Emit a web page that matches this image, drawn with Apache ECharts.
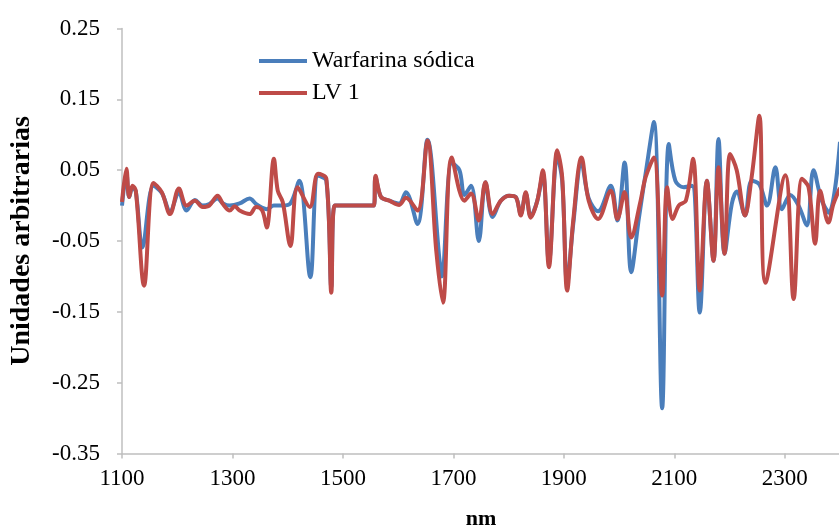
<!DOCTYPE html>
<html>
<head>
<meta charset="utf-8">
<script src="https://cdn.jsdelivr.net/npm/echarts@6/dist/echarts.min.js"></script>
<style>
html,body{margin:0;padding:0;background:#fff;}
#chart{width:839px;height:531px;}
</style>
</head>
<body>
<div id="chart"></div>
<script>
// X tick labels (nm)
var xTicks = [1100, 1300, 1500, 1700, 1900, 2100, 2300];
// Y tick labels
var yTicks = [0.25, 0.15, 0.05, -0.05, -0.15, -0.25, -0.35];

// Warfarina sódica
var warfNm = [1100,1108,1113,1119,1125,1137,1157,1172,1187,1203,1217,1232,1246,1258,1273,1283,1295,1313,1331,1343,1354,1362,1375,1391,1405,1421,1441,1455,1470,1479,1485,1556,1559,1569,1584,1602,1614,1635,1653,1675,1679,1697,1711,1720,1732,1746,1758,1771,1786,1801,1813,1822,1831,1840,1852,1862,1873,1888,1897,1906,1917,1932,1945,1962,1985,1997,2010,2022,2036,2048,2063,2078,2090,2102,2117,2132,2146,2159,2171,2180,2191,2204,2213,2228,2240,2254,2268,2283,2295,2310,2325,2340,2352,2367,2380,2400];
var warfVal = [0.000,0.045,0.012,0.025,0.020,-0.059,0.028,0.018,-0.008,0.018,-0.007,0.008,0.000,0.002,0.010,0.003,0.000,0.003,0.010,0.002,-0.003,-0.005,0.000,0.000,0.003,0.035,-0.101,0.042,0.035,-0.115,0.000,0.000,0.040,0.012,0.007,0.003,0.019,-0.026,0.093,-0.078,-0.100,0.060,0.050,0.015,0.028,-0.050,0.033,-0.016,0.007,0.014,0.012,-0.012,0.017,-0.015,0.007,0.045,-0.080,0.070,0.035,-0.110,-0.026,0.060,0.010,-0.008,0.028,-0.021,0.061,-0.094,-0.017,0.045,0.118,-0.286,0.087,0.035,0.026,0.028,-0.151,0.035,-0.078,0.094,-0.068,0.002,0.020,-0.014,0.035,0.030,0.000,0.054,-0.005,0.015,0.000,-0.028,0.050,0.007,-0.010,0.090];

// LV 1
var lvNm = [1100,1108,1113,1119,1125,1140,1157,1172,1187,1203,1217,1232,1246,1258,1273,1283,1295,1304,1313,1331,1343,1354,1362,1375,1382,1391,1405,1418,1440,1455,1470,1479,1485,1556,1559,1569,1584,1602,1614,1635,1653,1669,1681,1697,1720,1732,1746,1758,1771,1786,1801,1813,1822,1831,1840,1852,1862,1873,1888,1897,1906,1917,1932,1945,1962,1985,1997,2010,2022,2039,2048,2063,2078,2087,2097,2108,2121,2134,2146,2159,2171,2180,2191,2201,2213,2228,2240,2254,2265,2301,2316,2331,2343,2355,2364,2379,2388,2400];
var lvVal = [0.005,0.052,0.012,0.028,0.021,-0.113,0.032,0.019,-0.012,0.024,0.000,0.007,-0.002,0.000,0.014,0.002,-0.007,-0.001,-0.007,-0.012,-0.002,-0.007,-0.031,0.066,0.021,0.005,-0.057,0.026,-0.002,0.045,0.038,-0.123,0.000,0.000,0.042,0.012,0.007,0.001,0.011,-0.007,0.092,-0.064,-0.137,0.068,0.007,0.017,-0.021,0.033,-0.012,0.007,0.014,0.012,-0.014,0.019,-0.017,0.007,0.050,-0.087,0.078,0.040,-0.120,-0.021,0.068,0.007,-0.019,0.021,-0.019,0.019,-0.045,0.007,0.040,0.068,-0.127,0.026,-0.019,0.000,0.007,0.066,-0.120,0.035,-0.078,0.054,-0.068,0.073,0.050,-0.014,0.040,0.127,-0.109,0.043,-0.132,0.038,0.026,-0.054,0.021,-0.024,0.002,0.025];

function pairs(xs, ys){ var out=[]; for(var i=0;i<xs.length;i++){ out.push([xs[i], ys[i]]); } return out; }

var chart = echarts.init(document.getElementById('chart'), null, {renderer:'canvas'});
var axisGray = '#bfbfbf';
var serif = '"Liberation Serif", "Times New Roman", serif';
chart.setOption({
  animation:false,
  backgroundColor:'#ffffff',
  grid:{left:122, right:-1, top:28.5, bottom:77.5, containLabel:false, outerBoundsMode:'none'},
  legend:{
    orient:'vertical', left:254, top:44,
    icon:'rect', itemWidth:48, itemHeight:4, itemGap:8,
    textStyle:{fontFamily:serif, fontSize:24, color:'#000', lineHeight:24},
    data:['Warfarina sódica','LV 1']
  },
  xAxis:{
    type:'value', min:1100, max:2400, interval:200,
    name:'nm', nameLocation:'middle', nameGap:55,
    nameTextStyle:{fontFamily:serif, fontSize:22, fontWeight:'bold', color:'#000'},
    axisLine:{show:true, onZero:false, lineStyle:{color:axisGray, width:1.5}},
    axisTick:{show:true, inside:false, length:5, lineStyle:{color:axisGray, width:1.5}},
    axisLabel:{fontFamily:serif, fontSize:23, color:'#000', margin:14, showMaxLabel:false,
      formatter:function(v){ return xTicks.indexOf(Math.round(v))>=0 ? String(Math.round(v)) : ''; }},
    splitLine:{show:false}
  },
  yAxis:{
    type:'value', min:-0.35, max:0.25, interval:0.1,
    name:'Unidades arbitrarias', nameLocation:'middle', nameGap:86, nameRotate:90,
    nameTextStyle:{fontFamily:serif, fontSize:28, fontWeight:'bold', color:'#000'},
    axisLine:{show:true, onZero:false, lineStyle:{color:axisGray, width:1.5}},
    axisTick:{show:true, inside:false, length:5, lineStyle:{color:axisGray, width:1.5}},
    axisLabel:{fontFamily:serif, fontSize:23, color:'#000', margin:22,
      formatter:function(v){ var r=Math.round(v*100)/100; return yTicks.indexOf(r)>=0 ? r.toFixed(2) : ''; }},
    splitLine:{show:false}
  },
  series:[
    {name:'Warfarina sódica', type:'line', data:pairs(warfNm, warfVal), smooth:0.35, showSymbol:false,
     lineStyle:{color:'#4a7ebb', width:4}, itemStyle:{color:'#4a7ebb'}, z:2},
    {name:'LV 1', type:'line', data:pairs(lvNm, lvVal), smooth:0.35, showSymbol:false,
     lineStyle:{color:'#be4b48', width:4}, itemStyle:{color:'#be4b48'}, z:3}
  ]
});
</script>
</body>
</html>
